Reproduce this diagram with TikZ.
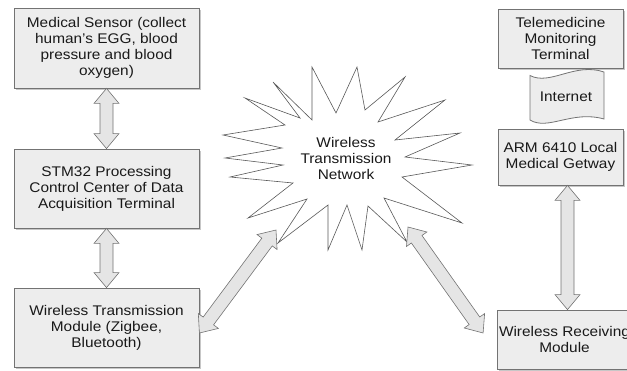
\documentclass[tikz,border=0pt]{standalone}
\usepackage{fontspec}
\setmainfont{Liberation Sans}[FakeStretch=1.1]
\usetikzlibrary{calc,shadows}
\tikzset{
  box/.style={draw=black!55, line width=0.8pt, fill=black!7, align=center,
    text=black!90, font=\fontsize{14}{16}\selectfont, inner sep=0pt,
    drop shadow={shadow xshift=1.8pt, shadow yshift=-1.8pt, fill=black!22, opacity=1}},
  blk/.style={draw=black!55, line width=0.6pt, fill=black!10, line join=miter},
  starline/.style={draw=black!65, line width=0.6pt, fill=white, line join=miter},
  tape/.style={draw=black!55, line width=0.8pt, fill=black!7},
  lbl/.style={align=center, font=\fontsize{14}{16}\selectfont, text=black!90, inner sep=0pt},
}
\newcommand{\blockarrow}[3]{%
  \coordinate (#1p) at ($(#2)!15pt!(#3)$);
  \coordinate (#1q) at ($(#3)!15pt!(#2)$);
  \path[blk] (#2) -- ($(#1p)!12.5pt!90:(#3)$) -- ($(#1p)!6.5pt!90:(#3)$)
    -- ($(#1q)!6.5pt!-90:(#2)$) -- ($(#1q)!12.5pt!-90:(#2)$) -- (#3)
    -- ($(#1q)!12.5pt!90:(#2)$) -- ($(#1q)!6.5pt!90:(#2)$)
    -- ($(#1p)!6.5pt!-90:(#3)$) -- ($(#1p)!12.5pt!-90:(#3)$) -- cycle;
}
\begin{document}
\begin{tikzpicture}[x=1pt,y=-1pt]
\useasboundingbox (0,0) rectangle (627,370);
\clip (0,0) rectangle (627,370);
% star
\path[starline] (223,135) -- (285,125) -- (245,98) -- (300,118) -- (273,82) -- (312,120)
  -- (312,67) -- (336,113) -- (357,67) -- (365,110) -- (405,77) -- (378,122)
  -- (445,100) -- (395,140) -- (460,133) -- (405,157) -- (472,165) -- (402,177)
  -- (462,223) -- (384,198) -- (407,242) -- (368,206) -- (362,250) -- (347,205)
  -- (328,250) -- (328,205) -- (278,243) -- (307,199) -- (248,218) -- (293,183)
  -- (230,177) -- (283,165) -- (225,158) -- (282,148) -- cycle;
\node[lbl] (net) at (346,158) {Wireless\\Transmission\\Network};
% left column
\node[box, minimum width=185pt, minimum height=80pt] (s1) at (106.5,48)
  {Medical Sensor (collect\\human{\char"0027}s EGG, blood\\pressure and blood\\oxygen)};
\node[box, minimum width=185pt, minimum height=79pt] (s2) at (106.5,188.5)
  {STM32 Processing\\Control Center of Data\\Acquisition Terminal};
\node[box, minimum width=185pt, minimum height=79pt] (s3) at (106.5,327.5)
  {Wireless Transmission\\Module (Zigbee,\\Bluetooth)};
% right column
\node[box, minimum width=125pt, minimum height=59pt] (tm) at (560.5,38.5)
  {Telemedicine\\Monitoring\\Terminal};
\path[tape] (530,75.5) .. controls (550,86) and (575,62) .. (604,72) -- (604,119)
  .. controls (572,110) and (548,131) .. (530,120) -- cycle;
\node[lbl] (inet) at (566,97) {Internet};
\node[box, minimum width=134pt, minimum height=59pt] (rec) at (564.5,339.5)
  {Wireless Receiving\\Module};
\node[box, minimum width=125pt, minimum height=56pt] (arm) at (560.5,157)
  {ARM 6410 Local\\Medical Getway};
% arrows
\blockarrow{a1}{s1.south}{s2.north}
\blockarrow{a2}{s2.south}{s3.north}
\coordinate (r1) at ($(arm.south)+(7,0)$);
\coordinate (r2) at ($(rec.north)+(3,0)$);
\blockarrow{a3}{r1}{r2}
\coordinate (w1) at ($(s3.east)+(0,5.5)$);
\coordinate (n1) at (276,230);
\blockarrow{a4}{w1}{n1}
\coordinate (n2) at (408,227);
\coordinate (w2) at ($(rec.west)+(-14,-6.5)$);
\blockarrow{a5}{n2}{w2}
\end{tikzpicture}
\end{document}
